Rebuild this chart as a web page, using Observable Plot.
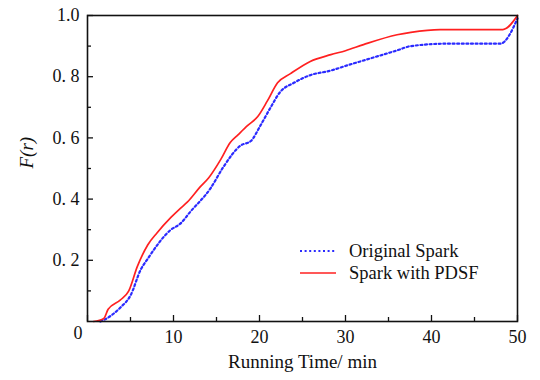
<!DOCTYPE html>
<html><head><meta charset="utf-8">
<script src="https://cdn.jsdelivr.net/npm/d3@7"></script>
<script src="https://cdn.jsdelivr.net/npm/@observablehq/plot@0.6"></script>
<style>
body{margin:0;background:#fff;}
#wrap{position:relative;width:540px;height:380px;}
#wrap, #wrap svg, #wrap svg text, #legend{font-family:"Liberation Serif","Times New Roman",Times,"DejaVu Serif",serif !important;}
#legend{position:absolute;left:300px;top:240px;font-size:18.5px;color:#111;line-height:22px;}
#legend div{display:flex;align-items:center;height:22px;}
#legend svg{margin-right:13px;}
</style>
</head><body>
<div id="wrap"><div id="legend"></div></div>
<script>
const seriesNames = ["Original Spark", "Spark with PDSF"];
const seriesColors = ["#2b2bff", "#ff2020"];
const origT = [1.5, 1.9, 3.8, 5.0, 6.2, 7.0, 9.7, 10.8, 12, 14.3, 15.8, 17.8, 19, 20.1, 21.3, 22.4, 24, 25.9, 28.3, 30.2, 32.1, 36, 37.6, 41.9, 48, 50];
const origF = [0, 0.005, 0.045, 0.085, 0.17, 0.205, 0.30, 0.32, 0.36, 0.435, 0.505, 0.575, 0.59, 0.64, 0.70, 0.75, 0.78, 0.805, 0.82, 0.837, 0.853, 0.886, 0.90, 0.908, 0.908, 0.99];
const pdsfT = [0.7, 1.9, 2.4, 3.8, 4.8, 5.8, 7.0, 8.1, 9.7, 10.8, 11.6, 13.1, 14.1, 15.5, 16.6, 17.5, 18.6, 19.8, 20.9, 22.1, 23.6, 25.9, 28.3, 30, 32.1, 36, 37.6, 41, 48.3, 50];
const pdsfF = [0, 0.01, 0.04, 0.07, 0.10, 0.18, 0.25, 0.29, 0.34, 0.37, 0.39, 0.44, 0.47, 0.53, 0.585, 0.61, 0.64, 0.67, 0.72, 0.78, 0.81, 0.85, 0.872, 0.885, 0.905, 0.937, 0.945, 0.954, 0.954, 1.0];
const xMajor = [0, 10, 20, 30, 40, 50];
const xMinor = [5, 15, 25, 35, 45];
const yMajor = [0.2, 0.4, 0.6, 0.8, 1.0];
const yMinor = [0.1, 0.3, 0.5, 0.7, 0.9];
const xLabel = "Running Time/ min";
const yLabel = "F(r)";

const orig = origT.map((t, i) => ({t, F: origF[i]}));
const pdsf = pdsfT.map((t, i) => ({t, F: pdsfF[i]}));
const yFmt = d => d === 1 ? "1.0" : "0. " + Math.round(d * 10);

const chart = Plot.plot({
  width: 540, height: 380,
  marginLeft: 87, marginRight: 23, marginTop: 15, marginBottom: 59,
  style: {fontFamily: "'Liberation Serif', 'Times New Roman', serif", fontSize: "18px", color: "#111", background: "#fff"},
  x: {domain: [0, 50]},
  y: {domain: [0, 1]},
  marks: [
    Plot.line(orig, {x: "t", y: "F", stroke: seriesColors[0], strokeWidth: 2.2, strokeDasharray: "2,2.6", curve: "monotone-x"}),
    Plot.line(pdsf, {x: "t", y: "F", stroke: seriesColors[1], strokeWidth: 1.7, curve: "monotone-x"}),
    Plot.axisX({ticks: xMajor, tickSize: 0, tickPadding: 9, tickFormat: d => d === 0 ? "" : String(d), label: null, fontSize: 18}),
    Plot.axisX({ticks: xMajor, tickSize: -6, tickFormat: () => "", label: null, strokeWidth: 1.3}),
    Plot.axisX({ticks: xMinor, tickSize: -4, tickFormat: () => "", label: null, strokeWidth: 1.3}),
    Plot.axisY({ticks: yMajor, tickSize: 0, tickPadding: 8, tickFormat: yFmt, label: null, fontSize: 18}),
    Plot.axisY({ticks: yMajor, tickSize: -6, tickFormat: () => "", label: null, strokeWidth: 1.3}),
    Plot.axisY({ticks: yMinor, tickSize: -4, tickFormat: () => "", label: null, strokeWidth: 1.3}),
    Plot.text(["0"], {frameAnchor: "bottom-left", dx: -14, dy: 17, fontSize: 18}),
    Plot.text([xLabel], {frameAnchor: "bottom", dy: 46, fontSize: 19}),
    Plot.text([yLabel], {frameAnchor: "left", rotate: -90, dx: -61, fontSize: 19, fontStyle: "italic"}),
    Plot.frame({stroke: "#111", strokeWidth: 1.6})
  ]
});
const wrap = document.getElementById("wrap");
wrap.insertBefore(chart, wrap.firstChild);

const legend = document.getElementById("legend");
seriesNames.forEach((name, i) => {
  const row = document.createElement("div");
  const dash = i === 0 ? 'stroke-dasharray="2,2.6" stroke-width="2.2"' : 'stroke-width="1.7"';
  row.innerHTML = `<svg width="36" height="10"><line x1="0" x2="36" y1="5" y2="5" stroke="${seriesColors[i]}" ${dash}/></svg><span>${name}</span>`;
  legend.appendChild(row);
});
</script>
</body></html>
